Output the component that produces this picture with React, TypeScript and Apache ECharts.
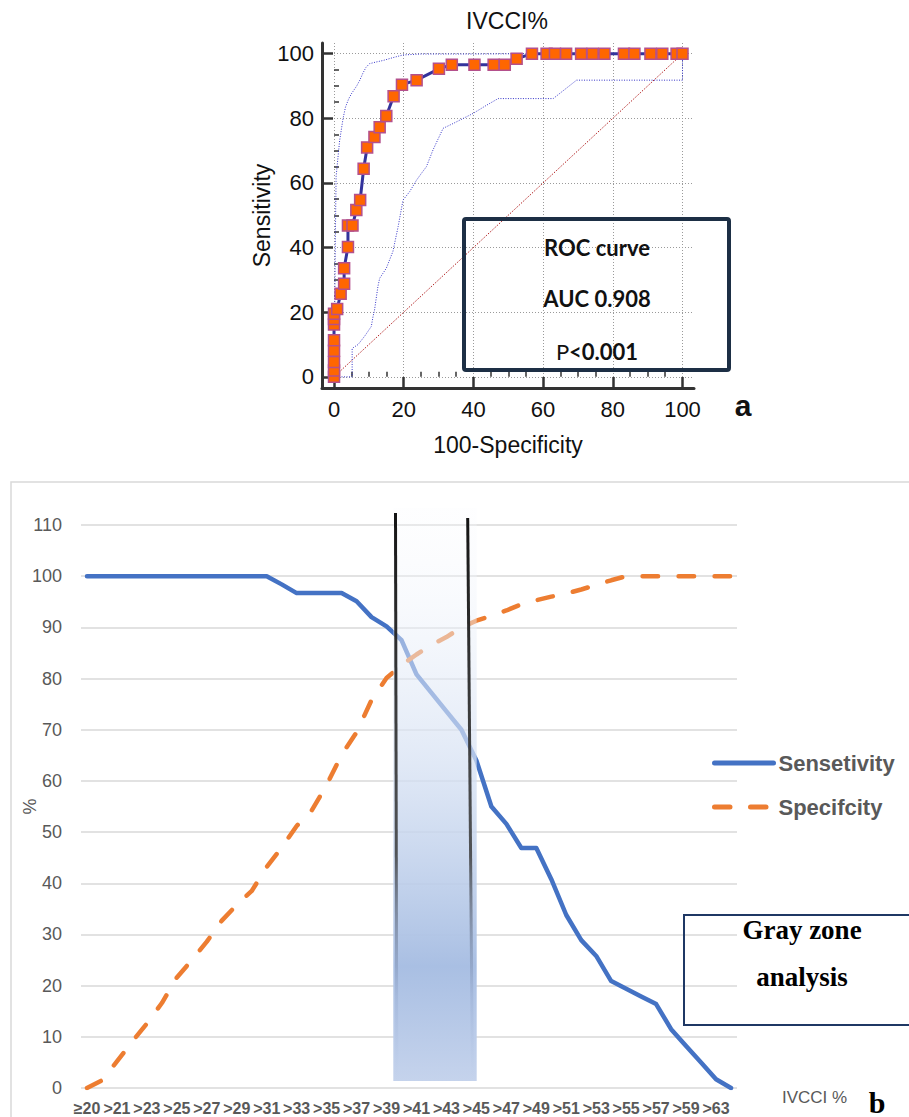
import React, { useEffect, useRef } from 'react';
import * as echarts from 'echarts';

// ---------- Panel a: ROC curve ----------
const rocFpr = [0, 0, 0, 0, 0, 0, 0, 0, 0.9, 1.9, 2.9, 2.9, 4.0, 4.0, 5.3, 6.4, 7.5, 8.5, 9.5, 11.6, 13.1, 15.0, 17.1, 19.5, 23.7, 30.1, 33.8, 40.3, 45.8, 49.0, 52.4, 56.8, 61.0, 63.4, 66.6, 70.9, 74.2, 77.6, 83.2, 86.2, 90.8, 94.2, 98.3, 100];
const rocSens = [0, 2, 4.6, 8.1, 11.3, 16.2, 17.9, 19.5, 21, 25.7, 28.8, 33.6, 40.2, 46.8, 46.8, 51.6, 54.7, 64.4, 71, 74.2, 77.2, 80.7, 86.8, 90.4, 91.8, 95.3, 96.6, 96.6, 96.6, 96.6, 98.4, 100, 100, 100, 100, 100, 100, 100, 100, 100, 100, 100, 100, 100];

const upperCiFpr = [0, 0.2, 0.4, 0.6, 1.6, 2.6, 3.3, 4.2, 5.0, 6.5, 7.4, 8.3, 9.2, 10.2, 12.0, 14.1, 17.0, 19.8, 25, 40, 57, 100];
const upperCiSens = [0, 20, 45, 62, 73, 80, 83.5, 86, 87.6, 90, 91.8, 94, 95.8, 96.9, 97.4, 97.9, 98.8, 99.6, 99.9, 99.9, 100, 100];

const lowerCiFpr = [0, 5.2, 5.2, 6.9, 8.8, 10.7, 11.2, 11.6, 12.6, 13.1, 15.0, 16.9, 18.4, 19.8, 21.7, 23.7, 25.1, 26.5, 28.4, 31.3, 34.2, 39.9, 43.7, 47.1, 52.3, 62.9, 69.6, 100, 100];
const lowerCiSens = [0, 0, 8.8, 10, 12.6, 15.6, 18.7, 20.5, 28, 30.5, 33.6, 38.8, 46.5, 54.7, 57.3, 60.9, 63, 65, 70.2, 76.9, 78.4, 81.5, 84, 86.1, 86.1, 86.1, 91.8, 91.8, 100];

const diagonalX = [0, 100];
const diagonalY = [0, 100];

const rocMajorTicks = [0, 20, 40, 60, 80, 100];
const rocMinorTicks = [5, 10, 15, 25, 30, 35, 45, 50, 55, 65, 70, 75, 85, 90, 95];

// ---------- Panel b: gray zone ----------
const thresholds = ['≥20', '>20', '>21', '>22', '>23', '>24', '>25', '>26', '>27', '>28', '>29', '>30', '>31', '>32', '>33', '>34', '>35', '>36', '>37', '>38', '>39', '>40', '>41', '>42', '>43', '>44', '>45', '>46', '>47', '>48', '>49', '>50', '>51', '>52', '>53', '>54', '>55', '>56', '>57', '>58', '>59', '>61', '>63', '>65'];
const sensetivity = [100, 100, 100, 100, 100, 100, 100, 100, 100, 100, 100, 100, 100, 98.4, 96.7, 96.7, 96.7, 96.7, 95.1, 92, 90.2, 87.5, 80.8, 77.2, 73.6, 70.0, 64, 55, 51.6, 46.9, 46.9, 40.8, 33.8, 28.9, 25.8, 20.9, 19.4, 17.9, 16.4, 11.5, 8.2, 5.0, 1.7, 0];
const specifcity = [0, 1.5, 5.2, 9, 12.6, 16.6, 21.6, 25, 28.6, 32.7, 35.8, 38.5, 43.2, 47, 51.2, 54.2, 59.2, 65.1, 69.5, 75.8, 80.1, 82.6, 84.7, 86.6, 88.1, 90, 91.3, 92.3, 93.3, 94.5, 95.3, 96, 96.6, 97.4, 98.3, 99.2, 100, 100, 100, 100, 100, 100, 100, 100];
const shownLabelIdx = thresholds.map((_, i) => i).filter((i) => i % 2 === 0);

const SANS = '"Liberation Sans", Arial, sans-serif';
const SERIF = '"Liberation Serif", "Times New Roman", serif';

const pairs = (xs: number[], ys: number[]) => xs.map((x, i) => [x, ys[i]]);

export default function App() {
  const ref = useRef<HTMLDivElement>(null);

  useEffect(() => {
    if (!ref.current) return;
    const chart = echarts.init(ref.current, null, { renderer: 'svg' });

    const axisDark = '#333333';
    const topRange = { min: -3.45, max: 103.3 };
    const boxFont = 'Lato, ' + SANS;

    const option: any = {
      animation: false,
      backgroundColor: '#ffffff',
      grid: [
        { left: 322, top: 43, width: 372, height: 345, outerBoundsMode: 'none' },
        { left: 81, top: 525, width: 656, height: 563, outerBoundsMode: 'none' },
      ],
      xAxis: [
        {
          gridIndex: 0, type: 'value', position: 'bottom', ...topRange,
          axisLine: { show: true, onZero: false, lineStyle: { color: axisDark, width: 3 } },
          axisTick: { show: true, inside: true, length: 11, customValues: rocMajorTicks, lineStyle: { color: axisDark, width: 2.5 } },
          axisLabel: { customValues: rocMajorTicks, margin: 10, fontSize: 22, color: '#111', fontFamily: SANS },
          splitLine: { show: true, lineStyle: { color: '#9a9a9a', type: [1, 2], width: 1 } },
          name: '100-Specificity', nameLocation: 'middle', nameGap: 45,
          nameTextStyle: { fontSize: 23, color: '#111', fontFamily: SANS },
        },
        {
          gridIndex: 0, type: 'value', position: 'bottom', ...topRange,
          axisLine: { show: false },
          axisTick: { show: true, inside: true, length: 5, customValues: rocMinorTicks, lineStyle: { color: axisDark, width: 1.5 } },
          axisLabel: { show: false },
          splitLine: { show: false },
        },
        {
          gridIndex: 1, type: 'value', min: -0.4, max: 43.4,
          axisLine: { show: false }, axisTick: { show: false }, splitLine: { show: false },
          axisLabel: {
            customValues: shownLabelIdx,
            formatter: (v: number) => thresholds[Math.round(v)] ?? '',
            margin: 12, fontSize: 16, fontWeight: 'bold', color: '#595959', fontFamily: SANS,
          },
        },
      ],
      yAxis: [
        {
          gridIndex: 0, type: 'value', position: 'left', ...topRange,
          axisLine: { show: true, onZero: false, lineStyle: { color: axisDark, width: 3 } },
          axisTick: { show: true, inside: true, length: 11, customValues: rocMajorTicks, lineStyle: { color: axisDark, width: 2.5 } },
          axisLabel: { customValues: rocMajorTicks, margin: 8, fontSize: 22, color: '#111', fontFamily: SANS },
          splitLine: { show: true, lineStyle: { color: '#9a9a9a', type: [1, 2], width: 1 } },
          name: 'Sensitivity', nameLocation: 'middle', nameGap: 48,
          nameTextStyle: { fontSize: 23, color: '#111', fontFamily: SANS },
        },
        {
          gridIndex: 0, type: 'value', position: 'left', ...topRange,
          axisLine: { show: false },
          axisTick: { show: true, inside: true, length: 5, customValues: rocMinorTicks, lineStyle: { color: axisDark, width: 1.5 } },
          axisLabel: { show: false },
          splitLine: { show: false },
        },
        {
          gridIndex: 1, type: 'value', min: 0, max: 110, interval: 10,
          axisLine: { show: false }, axisTick: { show: false },
          axisLabel: { margin: 19, fontSize: 18, color: '#595959', fontFamily: SANS },
          splitLine: { show: true, lineStyle: { color: '#d9d9d9', width: 1.5 } },
          name: '%', nameLocation: 'middle', nameGap: 42, nameMoveOverlap: false,
          nameTextStyle: { fontSize: 18, color: '#595959', fontFamily: SANS },
        },
      ],
      legend: {
        data: ['Sensetivity', 'Specifcity'],
        orient: 'vertical', left: 712, top: 751, padding: 0,
        itemWidth: 59, itemHeight: 10, itemGap: 20,
        itemStyle: { opacity: 0, borderWidth: 0 },
        lineStyle: { width: 5, opacity: 1 },
        textStyle: { fontSize: 22, fontWeight: 'bold', color: '#595959', fontFamily: SANS, lineHeight: 24 },
      },
      series: [
        {
          type: 'line', xAxisIndex: 0, yAxisIndex: 0, data: pairs(diagonalX, diagonalY),
          symbol: 'none', silent: true, lineStyle: { color: '#b22222', width: 1, type: [1.5, 1.5] },
        },
        {
          type: 'line', xAxisIndex: 0, yAxisIndex: 0, data: pairs(upperCiFpr, upperCiSens),
          symbol: 'none', silent: true, lineStyle: { color: '#3535c8', width: 1, type: [1, 1.5] },
        },
        {
          type: 'line', xAxisIndex: 0, yAxisIndex: 0, data: pairs(lowerCiFpr, lowerCiSens),
          symbol: 'none', silent: true, lineStyle: { color: '#3535c8', width: 1, type: [1, 1.5] },
        },
        {
          type: 'line', xAxisIndex: 0, yAxisIndex: 0, data: pairs(rocFpr, rocSens), clip: false,
          symbol: 'rect', symbolSize: 11, showSymbol: true,
          lineStyle: { color: '#33339c', width: 3 },
          itemStyle: { color: '#ff6600', borderColor: '#b4508c', borderWidth: 1.5 },
        },
        {
          name: 'Sensetivity', type: 'line', xAxisIndex: 2, yAxisIndex: 2,
          data: sensetivity.map((v, i) => [i, v]), symbol: 'none', showSymbol: false,
          lineStyle: { color: '#4472c4', width: 4.5, cap: 'round', join: 'round' },
          itemStyle: { color: '#4472c4' },
        },
        {
          name: 'Specifcity', type: 'line', xAxisIndex: 2, yAxisIndex: 2,
          data: specifcity.map((v, i) => [i, v]), symbol: 'none', showSymbol: false,
          lineStyle: { color: '#ed7d31', width: 4.5, type: [15.5, 20.5], cap: 'round', join: 'round' },
          itemStyle: { color: '#ed7d31' },
        },
      ],
      graphic: [
        // frame around panel b
        { type: 'rect', z: -10, silent: true, shape: { x: 11, y: 482, width: 930, height: 670 }, style: { fill: 'none', stroke: '#d9d9d9', lineWidth: 1.5 } },
        // title panel a
        { type: 'text', x: 507, y: 21, style: { text: 'IVCCI%', fontSize: 23, fontFamily: SANS, fill: '#111', align: 'center', verticalAlign: 'middle' } },
        // ROC legend box
        { type: 'rect', z: 50, shape: { x: 464, y: 219, width: 265, height: 151, r: 2 }, style: { fill: 'none', stroke: '#1d2f45', lineWidth: 4 } },
        { type: 'text', z: 51, x: 597, y: 247, style: { text: 'ROC curve', fontSize: 22, fontWeight: 'bold', fontFamily: boxFont, fill: '#111', align: 'center', verticalAlign: 'middle' } },
        { type: 'text', z: 51, x: 597, y: 298, style: { text: 'AUC 0.908', fontSize: 22, fontWeight: 'bold', fontFamily: boxFont, fill: '#111', align: 'center', verticalAlign: 'middle' } },
        {
          type: 'text', z: 51, x: 597, y: 351,
          style: {
            text: '{a|P}{b|<0.001}', align: 'center', verticalAlign: 'middle',
            rich: {
              a: { fontSize: 22, fontWeight: 'normal', fontFamily: boxFont, fill: '#111' },
              b: { fontSize: 22, fontWeight: 'bold', fontFamily: boxFont, fill: '#111' },
            },
          },
        },
        { type: 'text', x: 743, y: 405, style: { text: 'a', fontSize: 30, fontWeight: 'bold', fontFamily: SANS, fill: '#111', align: 'center', verticalAlign: 'middle' } },
        // gray zone shading (overlay)
        {
          type: 'rect', z: 100, silent: true,
          shape: { x: 393.3, y: 508, width: 83.4, height: 573 },
          style: {
            fill: new echarts.graphic.LinearGradient(0, 0, 0, 1, [
              { offset: 0, color: 'rgba(250,251,254,0.25)' },
              { offset: 0.15, color: 'rgba(240,244,251,0.42)' },
              { offset: 0.45, color: 'rgba(214,225,243,0.75)' },
              { offset: 0.8, color: 'rgba(169,191,227,1)' },
              { offset: 1, color: 'rgba(197,211,236,1)' },
            ]),
          },
        },
        {
          type: 'line', z: 101, silent: true,
          shape: { x1: 395.5, y1: 513, x2: 396.8, y2: 1081 },
          style: {
            lineWidth: 3,
            stroke: new echarts.graphic.LinearGradient(0, 513, 0, 1081, [
              { offset: 0, color: 'rgba(20,20,20,1)' },
              { offset: 0.6, color: 'rgba(60,60,60,0.85)' },
              { offset: 0.85, color: 'rgba(120,140,180,0.2)' },
              { offset: 1, color: 'rgba(160,180,220,0)' },
            ], true),
          },
        },
        {
          type: 'line', z: 101, silent: true,
          shape: { x1: 467.7, y1: 518, x2: 472.5, y2: 1081 },
          style: {
            lineWidth: 3,
            stroke: new echarts.graphic.LinearGradient(0, 518, 0, 1081, [
              { offset: 0, color: 'rgba(20,20,20,1)' },
              { offset: 0.6, color: 'rgba(60,60,60,0.85)' },
              { offset: 0.85, color: 'rgba(120,140,180,0.2)' },
              { offset: 1, color: 'rgba(160,180,220,0)' },
            ], true),
          },
        },
        // gray zone analysis box
        { type: 'rect', z: 60, shape: { x: 684, y: 915, width: 240, height: 110 }, style: { fill: 'none', stroke: '#1f3864', lineWidth: 2 } },
        { type: 'text', z: 61, x: 802, y: 930, style: { text: 'Gray zone', fontSize: 27, fontWeight: 'bold', fontFamily: SERIF, fill: '#000', align: 'center', verticalAlign: 'middle' } },
        { type: 'text', z: 61, x: 802, y: 977, style: { text: 'analysis', fontSize: 27, fontWeight: 'bold', fontFamily: SERIF, fill: '#000', align: 'center', verticalAlign: 'middle' } },
        // axis caption & panel letter b
        { type: 'text', x: 782, y: 1097, style: { text: 'IVCCI %', fontSize: 17, fontFamily: SANS, fill: '#595959', align: 'left', verticalAlign: 'middle' } },
        { type: 'text', x: 877, y: 1102, style: { text: 'b', fontSize: 30, fontWeight: 'bold', fontFamily: SERIF, fill: '#000', align: 'center', verticalAlign: 'middle' } },
      ],
    };

    chart.setOption(option);
    return () => chart.dispose();
  }, []);

  return (
    <div
      ref={ref}
      style={{ position: 'absolute', left: 0, top: 0, width: 909, height: 1117, background: '#fff' }}
    />
  );
}
